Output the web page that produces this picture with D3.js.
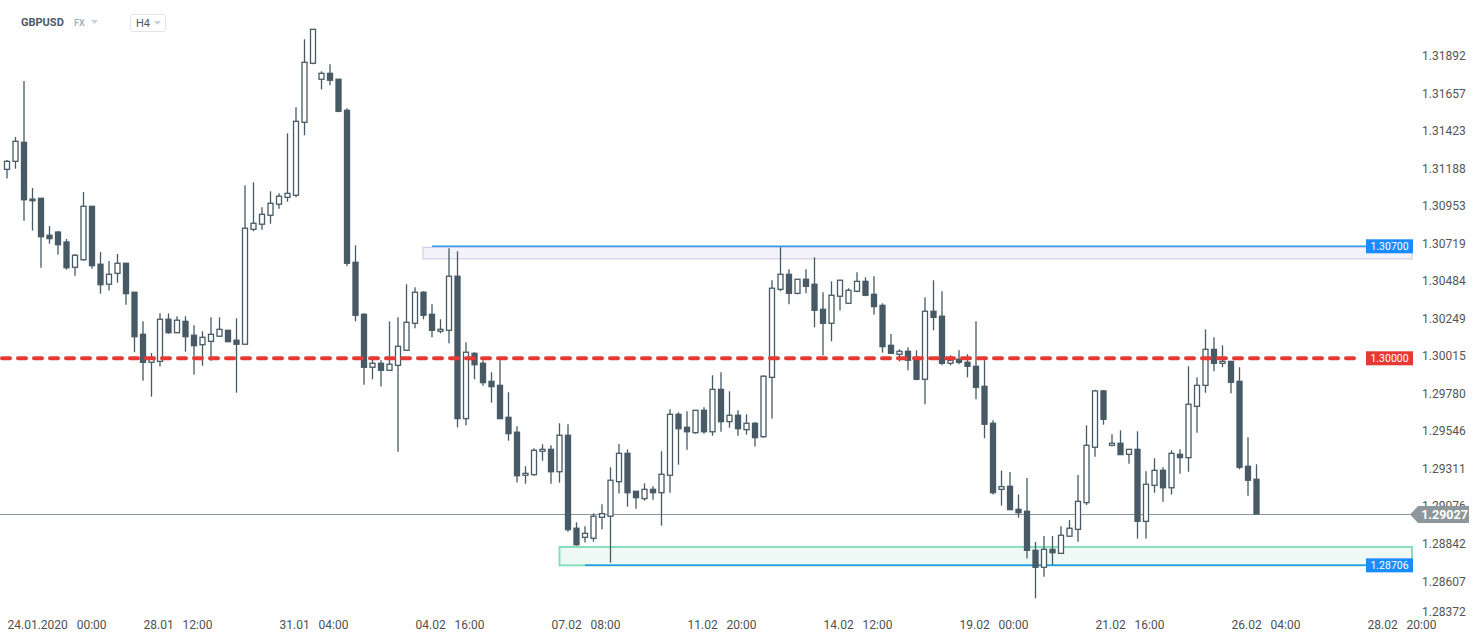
<!DOCTYPE html>
<html><head><meta charset="utf-8">
<script src="https://cdn.jsdelivr.net/npm/d3@7"></script>
<style>
html,body{margin:0;padding:0;background:#fff;}
svg{display:block;font-family:Roboto,"Noto Sans",sans-serif;}
</style></head><body>
<svg id="chart" width="1482" height="643"></svg>
<script>
// ---- data (GBPUSD, H4) ----
const candleOpen = [1.31181,1.31231,1.31350,1.30995,1.31000,1.30769,1.30789,1.30727,1.30569,1.30616,1.30950,1.30588,1.30463,1.30531,1.30594,1.30413,1.30150,1.29975,1.29981,1.30244,1.30160,1.30231,1.30144,1.30085,1.30106,1.30138,1.30175,1.30113,1.30088,1.30806,1.30838,1.30894,1.30963,1.31006,1.31019,1.31475,1.31844,1.31744,1.31781,1.31744,1.31550,1.30600,1.30275,1.29944,1.29969,1.29925,1.29956,1.30050,1.30219,1.30413,1.30275,1.30169,1.30175,1.30513,1.29623,1.30031,1.29969,1.29856,1.29831,1.29631,1.29538,1.29269,1.29273,1.29419,1.29431,1.29291,1.29519,1.28938,1.28881,1.28875,1.29006,1.29013,1.29229,1.29406,1.29169,1.29123,1.29181,1.29160,1.29269,1.29650,1.29569,1.29535,1.29675,1.29541,1.29806,1.29604,1.29644,1.29554,1.29594,1.29510,1.29881,1.30431,1.30525,1.30406,1.30494,1.30463,1.30306,1.30219,1.30388,1.30344,1.30419,1.30481,1.30400,1.30331,1.30081,1.30025,1.30044,1.30006,1.29869,1.30294,1.30263,1.29969,1.29994,1.29975,1.29950,1.29825,1.29594,1.29181,1.29200,1.29056,1.29044,1.28800,1.28694,1.28806,1.28781,1.28888,1.28931,1.29098,1.29444,1.29796,1.29456,1.29469,1.29400,1.29431,1.28981,1.29206,1.29300,1.29191,1.29400,1.29379,1.29700,1.29831,1.30056,1.29969,1.29981,1.29856,1.29325,1.29244];
const candleHigh = [1.31239,1.31383,1.31733,1.31064,1.31000,1.30827,1.30796,1.30746,1.30652,1.31039,1.30950,1.30664,1.30608,1.30652,1.30594,1.30413,1.30231,1.30033,1.30281,1.30281,1.30263,1.30263,1.30206,1.30169,1.30256,1.30256,1.30175,1.30250,1.31081,1.31100,1.30944,1.31044,1.31031,1.31406,1.31569,1.31994,1.32056,1.31794,1.31838,1.31744,1.31563,1.30706,1.30281,1.30013,1.29988,1.30231,1.30256,1.30463,1.30444,1.30419,1.30338,1.30244,1.30688,1.30669,1.30100,1.30038,1.29988,1.29913,1.29988,1.29788,1.29575,1.29325,1.29438,1.29463,1.29456,1.29594,1.29588,1.28975,1.28950,1.29031,1.29088,1.29319,1.29464,1.29431,1.29169,1.29219,1.29200,1.29419,1.29681,1.29663,1.29669,1.29675,1.29694,1.29894,1.29913,1.29794,1.29675,1.29650,1.29600,1.29894,1.30488,1.30694,1.30556,1.30494,1.30556,1.30631,1.30413,1.30481,1.30488,1.30438,1.30538,1.30506,1.30513,1.30344,1.30152,1.30056,1.30069,1.30050,1.30381,1.30488,1.30419,1.30019,1.30050,1.30025,1.30231,1.29988,1.29613,1.29298,1.29289,1.29148,1.29252,1.28852,1.28889,1.28889,1.28950,1.28989,1.29271,1.29581,1.29804,1.29802,1.29525,1.29550,1.29431,1.29544,1.29294,1.29375,1.29319,1.29425,1.29431,1.29950,1.29881,1.30181,1.30131,1.30081,1.29981,1.29944,1.29506,1.29338];
const candleLow = [1.31123,1.31185,1.30860,1.30798,1.30566,1.30716,1.30648,1.30554,1.30516,1.30610,1.30560,1.30404,1.30423,1.30473,1.30335,1.30038,1.29860,1.29760,1.29948,1.30154,1.30158,1.30041,1.29898,1.29954,1.29985,1.30133,1.30104,1.29785,1.30088,1.30794,1.30804,1.30841,1.30935,1.30979,1.31006,1.31394,1.31838,1.31681,1.31706,1.31538,1.30575,1.30231,1.29835,1.29869,1.29823,1.29925,1.29416,1.30050,1.30188,1.30244,1.30131,1.30156,1.30094,1.29569,1.29581,1.29869,1.29829,1.29723,1.29621,1.29485,1.29223,1.29216,1.29266,1.29360,1.29216,1.29223,1.28916,1.28829,1.28848,1.28854,1.28931,1.28723,1.29155,1.29073,1.29060,1.29110,1.29116,1.28954,1.29160,1.29335,1.29429,1.29529,1.29529,1.29516,1.29541,1.29566,1.29516,1.29523,1.29448,1.29504,1.29623,1.30419,1.30338,1.30400,1.30406,1.30194,1.30018,1.30106,1.30298,1.30344,1.30413,1.30388,1.30273,1.30035,1.30031,1.29981,1.29925,1.29863,1.29713,1.30175,1.29956,1.29956,1.29963,1.29881,1.29744,1.29500,1.29148,1.29079,1.29052,1.29004,1.28748,1.28500,1.28635,1.28710,1.28781,1.28888,1.28854,1.29083,1.29385,1.29585,1.29448,1.29398,1.29341,1.28873,1.28873,1.29160,1.29104,1.29148,1.29279,1.29291,1.29535,1.29785,1.29919,1.29944,1.29781,1.29306,1.29141,1.29027];
const candleClose = [1.31231,1.31356,1.30991,1.30985,1.30760,1.30748,1.30710,1.30566,1.30644,1.30950,1.30579,1.30460,1.30525,1.30594,1.30404,1.30135,1.29975,1.29994,1.30244,1.30160,1.30238,1.30135,1.30079,1.30131,1.30150,1.30181,1.30104,1.30088,1.30813,1.30844,1.30900,1.30969,1.31013,1.31031,1.31481,1.31850,1.32056,1.31781,1.31738,1.31544,1.30594,1.30269,1.29944,1.29969,1.29925,1.29963,1.30075,1.30225,1.30413,1.30269,1.30175,1.30181,1.30513,1.29623,1.30038,1.29960,1.29848,1.29823,1.29623,1.29529,1.29266,1.29281,1.29425,1.29431,1.29291,1.29519,1.28929,1.28835,1.28906,1.29013,1.29029,1.29238,1.29406,1.29160,1.29129,1.29181,1.29160,1.29275,1.29650,1.29560,1.29541,1.29675,1.29541,1.29806,1.29604,1.29644,1.29560,1.29594,1.29504,1.29888,1.30438,1.30525,1.30406,1.30494,1.30450,1.30300,1.30219,1.30394,1.30488,1.30425,1.30481,1.30394,1.30323,1.30073,1.30031,1.30044,1.29988,1.29869,1.30294,1.30256,1.29969,1.29988,1.29975,1.29950,1.29819,1.29588,1.29160,1.29198,1.29054,1.29035,1.28800,1.28694,1.28806,1.28785,1.28894,1.28938,1.29106,1.29456,1.29796,1.29619,1.29469,1.29398,1.29431,1.28981,1.29213,1.29300,1.29191,1.29406,1.29379,1.29713,1.29831,1.30056,1.29969,1.29981,1.29850,1.29319,1.29238,1.29027];

const xTickIndex = [0,16,32,48,64,80,96,112,128,144,160];
const xTickLabels = ["24.01.2020   00:00","28.01   12:00","31.01   04:00","04.02   16:00","07.02   08:00","11.02   20:00","14.02   12:00","19.02   00:00","21.02   16:00","26.02   04:00","28.02   20:00"];
const yTickLabels = ["1.31892","1.31657","1.31423","1.31188","1.30953","1.30719","1.30484","1.30249","1.30015","1.29780","1.29546","1.29311","1.29076","1.28842","1.28607","1.28372"];

const resistanceLevel = 1.30700, resistanceZoneLow = 1.30621, resistanceStart = 49, resistanceLineStart = 50;
const pivotLevel = 1.30000;
const supportLevel = 1.28706, supportZoneHigh = 1.28821, supportStart = 65, supportLineStart = 68;
const lastPrice = 1.29027;

// ---- scales ----
const svg = d3.select("#chart");
const plotRight = 1412;
const x = d3.scaleLinear().domain([0, 160]).range([7, 1367]);
const y = d3.scaleLinear().domain([1.28, 1.32]).range([678.3, 38.3]);

const candles = candleOpen.map((o, i) => ({i, o, h: candleHigh[i], l: candleLow[i], c: candleClose[i]}));

const CANDLE = "#475a65";

// resistance zone
svg.append("rect")
  .attr("x", x(resistanceStart) - 0.5).attr("y", y(resistanceLevel) + 1)
  .attr("width", plotRight - x(resistanceStart) + 0.5)
  .attr("height", y(resistanceZoneLow) - y(resistanceLevel) - 1)
  .attr("fill", "#f5f3fa").attr("stroke", "#cdc4df").attr("stroke-width", 1);
svg.append("line")
  .attr("x1", x(resistanceLineStart)).attr("x2", plotRight)
  .attr("y1", y(resistanceLevel)).attr("y2", y(resistanceLevel))
  .attr("stroke", "#2b9af3").attr("stroke-width", 1.5);

// support zone
svg.append("rect")
  .attr("x", x(supportStart)).attr("y", y(supportZoneHigh))
  .attr("width", plotRight - x(supportStart))
  .attr("height", y(supportLevel) - y(supportZoneHigh))
  .attr("fill", "#eef9f5").attr("stroke", "#86dfb9").attr("stroke-width", 2);
svg.append("line")
  .attr("x1", x(supportLineStart)).attr("x2", plotRight)
  .attr("y1", y(supportLevel)).attr("y2", y(supportLevel))
  .attr("stroke", "#1f93f0").attr("stroke-width", 1.5);

// last price line
svg.append("line")
  .attr("x1", 0).attr("x2", plotRight)
  .attr("y1", Math.round(y(lastPrice)) + 0.5).attr("y2", Math.round(y(lastPrice)) + 0.5)
  .attr("stroke", "#8d979b").attr("stroke-width", 1);

// candles
const g = svg.append("g");
g.selectAll("line.wick").data(candles).join("line")
  .attr("class", "wick")
  .attr("x1", d => x(d.i)).attr("x2", d => x(d.i))
  .attr("y1", d => y(d.h)).attr("y2", d => y(d.l))
  .attr("stroke", CANDLE).attr("stroke-width", 1.3);
g.selectAll("rect.body").data(candles).join("rect")
  .attr("class", "body")
  .attr("x", d => x(d.i) - 2.5).attr("width", 5)
  .attr("y", d => y(Math.max(d.o, d.c)))
  .attr("height", d => Math.max(1, y(Math.min(d.o, d.c)) - y(Math.max(d.o, d.c))))
  .attr("fill", d => d.c >= d.o ? "#ffffff" : CANDLE)
  .attr("stroke", CANDLE).attr("stroke-width", 1.3);

// pivot dashed line
svg.append("line")
  .attr("x1", 2).attr("x2", 1362)
  .attr("y1", y(pivotLevel)).attr("y2", y(pivotLevel))
  .attr("stroke", "#e53a35").attr("stroke-width", 4)
  .attr("stroke-dasharray", "8,8").attr("stroke-linecap", "round");

// level labels
function levelLabel(v, color) {
  const gg = svg.append("g").attr("transform", `translate(1366,${y(v)})`);
  gg.append("rect").attr("x", 0).attr("y", -7).attr("width", 47).attr("height", 14).attr("fill", color);
  gg.append("text").attr("x", 23.5).attr("y", 0).attr("dy", "0.35em")
    .attr("text-anchor", "middle").attr("fill", "#fff").attr("font-size", 10.5)
    .text(d3.format(".5f")(v));
}
levelLabel(resistanceLevel, "#1a8cff");
levelLabel(pivotLevel, "#e53935");
levelLabel(supportLevel, "#1a8cff");

// y axis
const yAxis = d3.axisRight(y)
  .tickValues(yTickLabels.map(Number))
  .tickFormat((d, i) => yTickLabels[i])
  .tickSize(0).tickPadding(12);
const ya = svg.append("g").attr("transform", "translate(1410,0)").call(yAxis);
ya.select(".domain").remove();
ya.selectAll("text").attr("font-size", 12).attr("fill", "#555").attr("font-family", "Roboto, sans-serif");
ya.selectAll(".tick").filter((d, i) => i === yTickLabels.length - 1)
  .select("text").attr("dy", "-0.3em");

// current price label
const py = Math.round(y(lastPrice)) + 0.5;
svg.append("path")
  .attr("d", `M1410,${py} L1418,${py-8.5} L1469,${py-8.5} L1469,${py+8.5} L1418,${py+8.5} Z`)
  .attr("fill", "#8e979b");
svg.append("text").attr("x", 1444.5).attr("y", py).attr("dy", "0.36em")
  .attr("text-anchor", "middle").attr("fill", "#fff").attr("font-size", 12.5).attr("font-weight", "bold")
  .text(d3.format(".5f")(lastPrice));

// x axis
const xAxis = d3.axisBottom(x)
  .tickValues(xTickIndex)
  .tickFormat((d, i) => xTickLabels[i])
  .tickSize(0).tickPadding(0);
const xa = svg.append("g").attr("transform", "translate(0,625)").call(xAxis);
xa.select(".domain").remove();
xa.selectAll("text").attr("text-anchor", "start").attr("dy", "0.35em")
  .attr("font-size", 12).attr("fill", "#505050")
  .attr("font-family", "Roboto, sans-serif")
  .style("white-space", "pre");

// header
const hdr = svg.append("g");
hdr.append("text").attr("x", 21).attr("y", 26).attr("font-size", 11).attr("font-weight", "bold").attr("fill", "#4b5a66").text("GBPUSD");
hdr.append("text").attr("x", 74).attr("y", 26).attr("font-size", 9).attr("font-weight", "bold").attr("fill", "#a3b3c0").text("FX");
hdr.append("path").attr("d", "M91,20 L98,20 L94.5,24 Z").attr("fill", "#c9d1d7");
hdr.append("rect").attr("x", 130.5).attr("y", 14.5).attr("width", 35).attr("height", 17).attr("rx", 2)
  .attr("fill", "#fff").attr("stroke", "#e2e5e8");
hdr.append("text").attr("x", 136).attr("y", 26.5).attr("font-size", 11).attr("fill", "#555").text("H4");
hdr.append("path").attr("d", "M154,21 L161,21 L157.5,25 Z").attr("fill", "#c9d1d7");
</script>
</body></html>
